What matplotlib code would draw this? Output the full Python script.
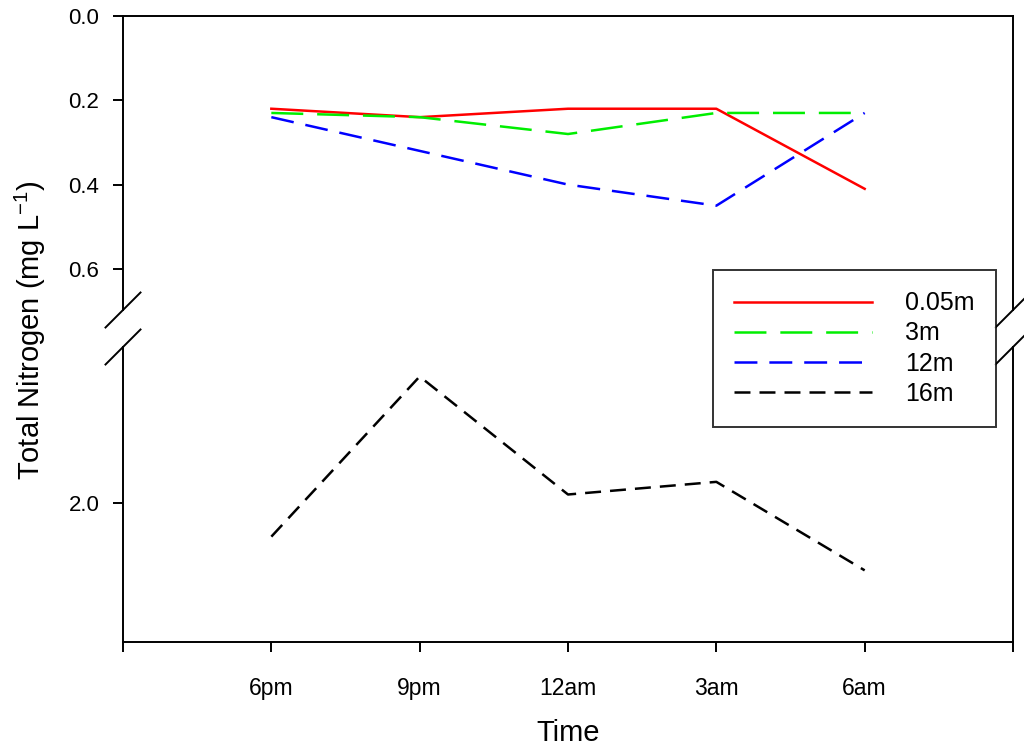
import numpy as np
import matplotlib
matplotlib.use('Agg')
import matplotlib.pyplot as plt

plt.rcParams['font.family'] = ['Liberation Sans', 'DejaVu Sans']
plt.rcParams['lines.scale_dashes'] = False

# data
times = ['6pm', '9pm', '12am', '3am', '6am']
x = [1, 2, 3, 4, 5]
tn_005m = [0.22, 0.24, 0.22, 0.22, 0.41]
tn_3m = [0.23, 0.24, 0.28, 0.23, 0.23]
tn_12m = [0.24, 0.32, 0.40, 0.45, 0.23]
tn_16m = [2.08, 1.70, 1.98, 1.95, 2.16]

W, H = 1024, 748
fig = plt.figure(figsize=(W / 100, H / 100), dpi=100)

left, right = 123 / W, 1013 / W
ax_top = fig.add_axes([left, 1 - 310 / H, right - left, (310 - 16) / H])
ax_bot = fig.add_axes([left, 1 - 642 / H, right - left, (642 - 347) / H])

lw = 1.8
styles = [
    (tn_005m, '#ff0000', None, '0.05m'),
    (tn_3m, '#00ee00', (0, (23, 10)), '3m'),
    (tn_12m, '#0000ff', (0, (16.5, 8.6)), '12m'),
]
handles = []
for vals, col, ls, lab in styles:
    if ls is None:
        l, = ax_top.plot(x, vals, color=col, lw=lw, label=lab)
    else:
        l, = ax_top.plot(x, vals, color=col, lw=lw, linestyle=ls, label=lab)
    handles.append(l)
l, = ax_bot.plot(x, tn_16m, color='black', lw=lw, linestyle=(0, (11.5, 6.5)), label='16m')
handles.append(l)

ax_top.set_ylim(0.6975, 0.0)
ax_top.set_yticks([0.0, 0.2, 0.4, 0.6])
ax_top.set_yticklabels(['0.0', '0.2', '0.4', '0.6'])
ax_bot.set_ylim(2.33, 1.63)
ax_bot.set_yticks([2.0])
ax_bot.set_yticklabels(['2.0'])

for ax in (ax_top, ax_bot):
    ax.set_xlim(0, 6)
    for s in ax.spines.values():
        s.set_linewidth(1.4)
    ax.tick_params(axis='y', direction='out', length=7, width=1.4, labelsize=16, pad=10, right=False)
ax_top.spines['bottom'].set_visible(False)
ax_bot.spines['top'].set_visible(False)
ax_top.tick_params(axis='x', bottom=False, labelbottom=False)
ax_bot.set_xticks([0, 1, 2, 3, 4, 5, 6])
ax_bot.set_xticklabels([''] + times + [''])
ax_bot.tick_params(axis='x', direction='out', length=7, width=1.4, labelsize=16.5, pad=18)
ax_bot.set_xlabel('Time', fontsize=21, labelpad=14)

fig.text(30 / W, 1 - 330 / H, r'Total Nitrogen (mg L$^{\mathregular{-1}}$)', rotation=90,
         fontsize=21, ha='center', va='center')

# break marks
d = 17.5
for ax, yy in ((ax_top, 0.0), (ax_bot, 1.0)):
    bb = ax.get_position()
    dx = d / (bb.width * W)
    dy = d / (bb.height * H)
    for xx in (0.0, 1.0):
        ax.plot([xx - dx, xx + dx], [yy - dy, yy + dy], color='black', lw=1.4,
                transform=ax.transAxes, clip_on=False)

leg = fig.legend(handles=handles, loc='upper left', bbox_to_anchor=(713 / W, 1 - 270 / H),
                 fontsize=18, handlelength=5.5, handletextpad=1.35, labelspacing=0.25,
                 borderpad=0.85, frameon=True, fancybox=False, borderaxespad=0)
leg.get_frame().set_edgecolor('black')
leg.get_frame().set_linewidth(1.4)

fig.savefig('out.png', dpi=100)
